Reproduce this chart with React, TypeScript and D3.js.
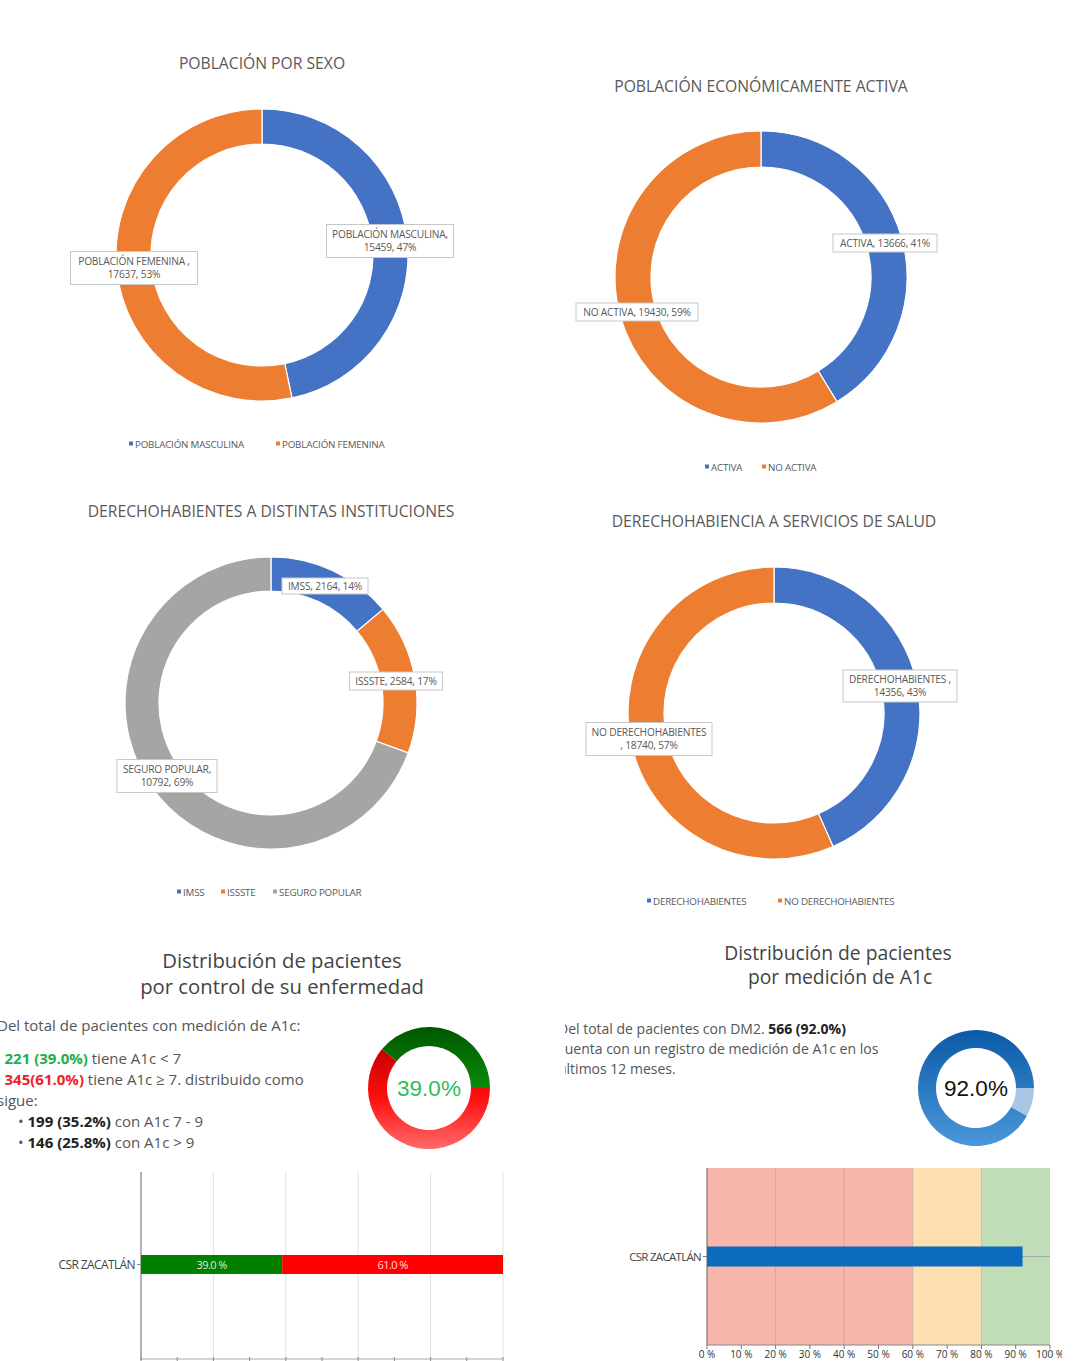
import React from "react";
import * as d3 from "d3";

// ---------- data ----------
const sexCategories = ["POBLACIÓN MASCULINA", "POBLACIÓN FEMENINA"];
const sexValues = [15459, 17637];
const sexLabelLines = [["POBLACIÓN MASCULINA,", "15459, 47%"], ["POBLACIÓN FEMENINA ,", "17637, 53%"]];

const peaCategories = ["ACTIVA", "NO ACTIVA"];
const peaValues = [13666, 19430];
const peaLabelLines = [["ACTIVA, 13666, 41%"], ["NO ACTIVA, 19430, 59%"]];

const instCategories = ["IMSS", "ISSSTE", "SEGURO POPULAR"];
const instValues = [2164, 2584, 10792];
const instLabelLines = [["IMSS, 2164, 14%"], ["ISSSTE, 2584, 17%"], ["SEGURO POPULAR,", "10792, 69%"]];

const dhCategories = ["DERECHOHABIENTES", "NO DERECHOHABIENTES"];
const dhValues = [14356, 18740];
const dhLabelLines = [["DERECHOHABIENTES ,", "14356, 43%"], ["NO DERECHOHABIENTES", ", 18740, 57%"]];

const controlCategories = ["A1c < 7", "A1c ≥ 7"];
const controlPercents = [39.0, 61.0];
const measuredPercents = [92.0, 8.0];
const barCategories = ["CSR ZACATLÁN"];
const xTickValues = [0, 10, 20, 30, 40, 50, 60, 70, 80, 90, 100];
const bandRanges = [[0, 60], [60, 80], [80, 100]];

// ---------- styles ----------
const OFFICE = ["#4472C4", "#ED7D31", "#A5A5A5"];
const TITLE_FONT = "'Open Sans', 'Liberation Sans', sans-serif";
const LABEL_FONT = "'Open Sans', sans-serif";

type LabelBox = { x: number; y: number; w: number; h: number };
type LegendItem = { x: number };

function OfficeDonut(props: {
  title: string; titleX: number; titleY: number;
  cx: number; cy: number; r: number; ri: number;
  values: number[]; categories: string[]; labelLines: string[][];
  boxes: LabelBox[]; legendY: number; legend: LegendItem[];
}) {
  const { title, titleX, titleY, cx, cy, r, ri, values, categories, labelLines, boxes, legendY, legend } = props;
  const pie = d3.pie<number>().sort(null).value((d) => d)(values);
  const arc = d3.arc<d3.PieArcDatum<number>>().innerRadius(ri).outerRadius(r);
  const color = d3.scaleOrdinal<number, string>().domain(d3.range(values.length)).range(OFFICE);
  return (
    <g>
      <text x={titleX} y={titleY} textAnchor="middle" fontFamily={TITLE_FONT} fontSize={15.7} fill="#595959">{title}</text>
      <g transform={`translate(${cx},${cy})`}>
        {pie.map((p, i) => (
          <path key={i} d={arc(p) || ""} fill={color(i)} stroke="#fff" strokeWidth={1.2} />
        ))}
      </g>
      {boxes.map((b, i) => (
        <g key={i}>
          <rect x={b.x - b.w / 2} y={b.y - b.h / 2} width={b.w} height={b.h} fill="#fff" stroke="#c8c8c8" strokeWidth={1} />
          {labelLines[i].map((ln, j) => {
            const n = labelLines[i].length;
            const yy = b.y + (j - (n - 1) / 2) * 13.5 + 3.5;
            return (
              <text key={j} x={b.x} y={yy} textAnchor="middle" fontFamily={LABEL_FONT} fontSize={10.2} fill="#595959" letterSpacing={-0.2}>{ln}</text>
            );
          })}
        </g>
      ))}
      {legend.map((l, i) => (
        <g key={i}>
          <rect x={l.x} y={legendY - 2.5} width={4} height={4} fill={color(i)} />
          <text x={l.x + 6} y={legendY + 3.5} fontFamily={LABEL_FONT} fontSize={9.8} fill="#595959" letterSpacing={-0.2}>{categories[i]}</text>
        </g>
      ))}
    </g>
  );
}

function GaugeDonut(props: {
  cx: number; cy: number; r: number; ri: number; values: number[];
  fills: string[]; text: string; textColor: string; id: string;
}) {
  const { cx, cy, r, ri, values, fills, text, textColor } = props;
  const total = d3.sum(values);
  const endAngle = Math.PI / 2;
  const a = d3.scaleLinear().domain([0, total]).range([0, 2 * Math.PI]);
  const startMain = endAngle - a(values[0]);
  const arc = d3.arc().innerRadius(ri).outerRadius(r);
  const mainPath = arc({ innerRadius: ri, outerRadius: r, startAngle: startMain, endAngle } as any) as string;
  const restPath = arc({ innerRadius: ri, outerRadius: r, startAngle: endAngle, endAngle: startMain + 2 * Math.PI } as any) as string;
  return (
    <g transform={`translate(${cx},${cy})`}>
      <path d={restPath} fill={fills[1]} />
      <path d={mainPath} fill={fills[0]} />
      <text x={0} y={8} textAnchor="middle" fontFamily="'Liberation Sans', Arial, sans-serif" fontSize={22.5} fill={textColor}>{text}</text>
    </g>
  );
}

export default function App() {
  // left stacked bar
  const xL = d3.scaleLinear().domain([0, 100]).range([141, 503]);
  const yL = d3.scaleBand().domain(barCategories).range([1172, 1359]).paddingInner(0).paddingOuter(0);
  const cumStarts = controlPercents.map((_, i) => d3.sum(controlPercents.slice(0, i)));
  const barH = 19;
  const catYL = (yL(barCategories[0]) || 0) + yL.bandwidth() / 2 - 1;

  // right bar
  const xR = d3.scaleLinear().domain([0, 100]).range([707, 1050]);
  const yR = d3.scaleBand().domain(barCategories).range([1168, 1345]);
  const catYR = (yR(barCategories[0]) || 0) + yR.bandwidth() / 2;
  const bandColors = ["#f7b5ab", "#fde0b1", "#c1ddb7"];

  const bodyFont = "'Open Sans', sans-serif";

  return (
    <svg width={1089} height={1361} style={{ position: "absolute", left: 0, top: 0, background: "#fff" }}>
      <defs>
        <linearGradient id="redGrad" x1="0" y1="0" x2="0" y2="1">
          <stop offset="0" stopColor="#c80000" />
          <stop offset="0.5" stopColor="#ff1010" />
          <stop offset="1" stopColor="#ff6a6a" />
        </linearGradient>
        <linearGradient id="greenGrad" x1="0" y1="0" x2="0" y2="1">
          <stop offset="0" stopColor="#005800" />
          <stop offset="1" stopColor="#0a8a0a" />
        </linearGradient>
        <linearGradient id="blueGrad" x1="0" y1="0" x2="0" y2="1">
          <stop offset="0" stopColor="#0a5aa6" />
          <stop offset="1" stopColor="#4b97da" />
        </linearGradient>
        <clipPath id="rightClip">
          <rect x={565} y={900} width={497} height={461} />
        </clipPath>
      </defs>

      <OfficeDonut
        title="POBLACIÓN  POR SEXO" titleX={262} titleY={69}
        cx={262} cy={255} r={146} ri={111}
        values={sexValues} categories={sexCategories} labelLines={sexLabelLines}
        boxes={[{ x: 390, y: 241, w: 127, h: 33 }, { x: 134, y: 268, w: 127, h: 33 }]}
        legendY={444} legend={[{ x: 129 }, { x: 276 }]}
      />
      <OfficeDonut
        title="POBLACIÓN ECONÓMICAMENTE ACTIVA" titleX={761} titleY={92}
        cx={761} cy={277} r={146} ri={110}
        values={peaValues} categories={peaCategories} labelLines={peaLabelLines}
        boxes={[{ x: 885, y: 243, w: 104, h: 18 }, { x: 637, y: 312, w: 122, h: 18 }]}
        legendY={467} legend={[{ x: 705 }, { x: 762 }]}
      />
      <OfficeDonut
        title="DERECHOHABIENTES A DISTINTAS INSTITUCIONES" titleX={271} titleY={517}
        cx={271} cy={703} r={146} ri={112}
        values={instValues} categories={instCategories} labelLines={instLabelLines}
        boxes={[{ x: 325, y: 586, w: 86, h: 16 }, { x: 396, y: 681, w: 93, h: 18 }, { x: 167, y: 776, w: 100, h: 33 }]}
        legendY={892} legend={[{ x: 177 }, { x: 221 }, { x: 273 }]}
      />
      <OfficeDonut
        title="DERECHOHABIENCIA A SERVICIOS DE SALUD" titleX={774} titleY={527}
        cx={774} cy={713} r={146} ri={110}
        values={dhValues} categories={dhCategories} labelLines={dhLabelLines}
        boxes={[{ x: 900, y: 686, w: 114, h: 32 }, { x: 649, y: 739, w: 126, h: 33 }]}
        legendY={901} legend={[{ x: 647 }, { x: 778 }]}
      />

      {/* ---------- bottom left panel ---------- */}
      <g fontFamily={bodyFont}>
        <text x={282} y={968} textAnchor="middle" fontSize={20.3} fill="#444">Distribución de pacientes</text>
        <text x={282} y={994} textAnchor="middle" fontSize={20.3} fill="#444">por control de su enfermedad</text>
        <g fontSize={15} fill="#555">
          <text x={-3} y={1031}>Del total de pacientes con medición de A1c:</text>
          <text x={-5} y={1064}>• <tspan fill="#22b04a" fontWeight="bold">221 (39.0%)</tspan> tiene A1c &lt; 7</text>
          <text x={-5} y={1085}>• <tspan fill="#f0202a" fontWeight="bold">345(61.0%)</tspan> tiene A1c ≥ 7. distribuido como</text>
          <text x={-3} y={1106}>sigue:</text>
          <text x={18} y={1127}>• <tspan fill="#222" fontWeight="bold">199 (35.2%)</tspan> con A1c 7 - 9</text>
          <text x={18} y={1148}>• <tspan fill="#222" fontWeight="bold">146 (25.8%)</tspan> con A1c &gt; 9</text>
        </g>
      </g>
      <GaugeDonut id="ctl" cx={429} cy={1088} r={61} ri={42} values={controlPercents}
        fills={["url(#greenGrad)", "url(#redGrad)"]} text="39.0%" textColor="#2bbf5a" />

      {/* left stacked bar chart */}
      <g>
        {xTickValues.filter((v) => v % 20 === 0 && v > 0).map((v) => (
          <line key={v} x1={xL(v)} x2={xL(v)} y1={1172} y2={1359} stroke="#e2e2e2" strokeWidth={1} />
        ))}
        <line x1={141} x2={141} y1={1172} y2={1360} stroke="#999" strokeWidth={1.5} />
        <line x1={141} x2={503} y1={1359} y2={1359} stroke="#aaa" strokeWidth={1} />
        {xTickValues.map((v) => (
          <line key={v} x1={xL(v)} x2={xL(v)} y1={1357} y2={1361} stroke="#888" strokeWidth={1} />
        ))}
        <line x1={137} x2={141} y1={catYL} y2={catYL} stroke="#888" />
        <text x={135} y={catYL + 4} textAnchor="end" fontFamily={LABEL_FONT} fontSize={12} fill="#444" letterSpacing={-0.6}>{barCategories[0]}</text>
        {controlPercents.map((v, i) => (
          <g key={i}>
            <rect x={xL(cumStarts[i])} y={catYL - barH / 2} width={xL(cumStarts[i] + v) - xL(cumStarts[i])} height={barH}
              fill={i === 0 ? "#008000" : "#ff0000"} />
            <text x={(xL(cumStarts[i]) + xL(cumStarts[i] + v)) / 2} y={catYL + 4} textAnchor="middle"
              fontFamily={LABEL_FONT} fontSize={11} fill="#fff" opacity={0.85} letterSpacing={-0.6}>{v.toFixed(1)} %</text>
          </g>
        ))}
      </g>

      {/* ---------- bottom right panel ---------- */}
      <g fontFamily={bodyFont}>
        <text x={838} y={960} textAnchor="middle" fontSize={19.3} fill="#444">Distribución de pacientes</text>
        <text x={840} y={984} textAnchor="middle" fontSize={19.3} fill="#444">por medición de A1c</text>
        <g fontSize={14} fill="#555" clipPath="url(#rightClip)">
          <text x={558} y={1034}>Del total de pacientes con DM2. <tspan fill="#222" fontWeight="bold">566 (92.0%)</tspan></text>
          <text x={558} y={1054}>cuenta con un registro de medición de A1c en los</text>
          <text x={558} y={1074}>últimos 12 meses.</text>
        </g>
      </g>
      <GaugeDonut id="meas" cx={976} cy={1088} r={58} ri={40} values={measuredPercents}
        fills={["url(#blueGrad)", "#a9c6e4"]} text="92.0%" textColor="#111" />

      <g clipPath="url(#rightClip)">
        {bandRanges.map((b, i) => (
          <rect key={i} x={xR(b[0])} y={1168} width={xR(b[1]) - xR(b[0])} height={177} fill={bandColors[i]} />
        ))}
        {xTickValues.filter((v) => v % 20 === 0 && v > 0 && v < 100).map((v) => (
          <line key={v} x1={xR(v)} x2={xR(v)} y1={1168} y2={1345} stroke="#b89c98" strokeWidth={0.8} opacity={0.7} />
        ))}
        <line x1={707} x2={1050} y1={catYR} y2={catYR} stroke="#a0a0a0" strokeWidth={0.8} />
        <line x1={707} x2={707} y1={1168} y2={1345} stroke="#666" strokeWidth={1} />
        <line x1={707} x2={1050} y1={1345} y2={1345} stroke="#888" strokeWidth={1} />
        {xTickValues.map((v) => (
          <g key={v}>
            <line x1={xR(v)} x2={xR(v)} y1={1345} y2={1349} stroke="#777" />
            <text x={xR(v)} y={1358} textAnchor="middle" fontFamily={LABEL_FONT} fontSize={10} fill="#333">{v} %</text>
          </g>
        ))}
        <line x1={703} x2={707} y1={catYR} y2={catYR} stroke="#777" />
        <text x={701} y={catYR + 4} textAnchor="end" fontFamily={LABEL_FONT} fontSize={11.5} fill="#444" letterSpacing={-0.7}>{barCategories[0]}</text>
        <rect x={xR(0)} y={catYR - 10} width={xR(measuredPercents[0]) - xR(0)} height={20} fill="#0a6bbf" />
      </g>
    </svg>
  );
}
